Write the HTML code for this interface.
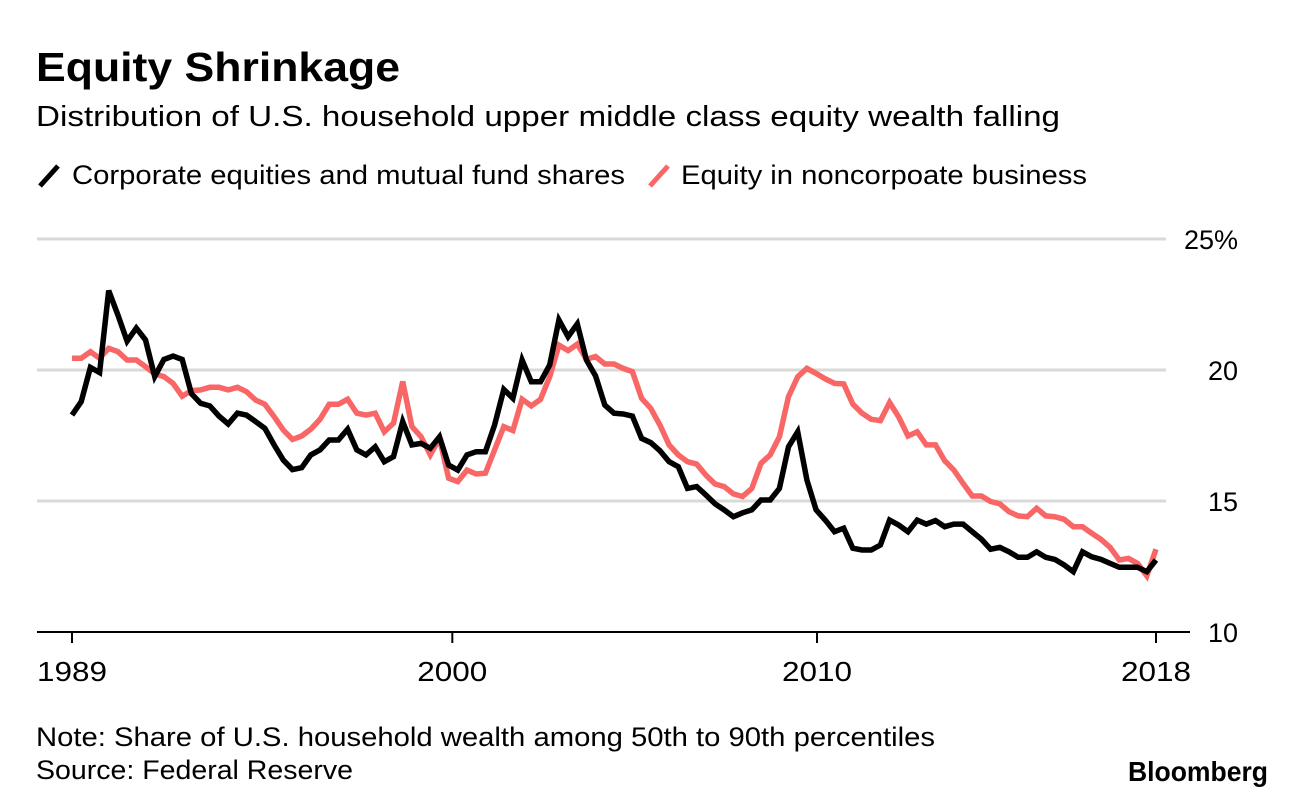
<!DOCTYPE html>
<html><head><meta charset="utf-8">
<style>
body{margin:0;background:#fff;width:1296px;height:802px;overflow:hidden;font-family:"Liberation Sans",Arial,sans-serif;}
svg text{font-family:"Liberation Sans",Arial,sans-serif;}
</style></head>
<body>
<svg id="chart" width="1296" height="802" viewBox="0 0 1296 802">
<text x="36" y="81" font-size="41" font-weight="bold" fill="#000" textLength="364" lengthAdjust="spacingAndGlyphs">Equity Shrinkage</text>
<text x="36" y="126" font-size="29" fill="#000" textLength="1024" lengthAdjust="spacingAndGlyphs">Distribution of U.S. household upper middle class equity wealth falling</text>
<g>
<line x1="40" y1="186" x2="58" y2="166" stroke="#000" stroke-width="5"/>
<text x="72" y="184" font-size="27" fill="#000" textLength="553" lengthAdjust="spacingAndGlyphs">Corporate equities and mutual fund shares</text>
<line x1="650" y1="186" x2="668" y2="166" stroke="#f86666" stroke-width="5"/>
<text x="681" y="184" font-size="27" fill="#000" textLength="406" lengthAdjust="spacingAndGlyphs">Equity in noncorpoate business</text>
</g>
<g id="grid"></g>
<g id="axes"></g>
<g id="series"></g>
<text x="36" y="746" font-size="27" fill="#000" textLength="899" lengthAdjust="spacingAndGlyphs">Note: Share of U.S. household wealth among 50th to 90th percentiles</text>
<text x="36" y="779" font-size="27" fill="#000" textLength="317" lengthAdjust="spacingAndGlyphs">Source: Federal Reserve</text>
<text x="1128" y="781" font-size="28" font-weight="bold" fill="#000" textLength="140" lengthAdjust="spacingAndGlyphs">Bloomberg</text>
</svg>
<script>
const corporate = [18.28,18.79,20.1,19.9,23.03,22.1,21.1,21.6,21.15,19.75,20.4,20.53,20.4,19.1,18.73,18.63,18.24,17.94,18.35,18.28,18.03,17.77,17.14,16.56,16.2,16.27,16.76,16.95,17.33,17.33,17.74,16.95,16.76,17.07,16.5,16.69,18.03,17.14,17.2,17.01,17.45,16.37,16.18,16.76,16.88,
16.88,17.9,19.26,18.92,20.38,19.55,19.55,20.19,21.91,21.27,21.76,20.38,19.77,18.66,18.35,18.32,18.24,17.39,17.23,16.92,16.5,16.31,15.48,15.55,15.23,14.89,14.66,14.4,14.55,14.66,15.04,15.04,15.48,17.07,17.64,15.8,14.66,14.27,13.83,13.96,
13.2,13.13,13.13,13.32,14.27,14.08,13.83,14.27,14.12,14.25,14.02,14.12,14.12,13.83,13.54,13.16,13.23,13.06,12.85,12.85,13.06,12.85,12.77,12.56,12.3,13.06,12.87,12.77,12.62,12.47,12.47,12.47,12.3,12.75];
const noncorporate = [20.45,20.45,20.7,20.45,20.83,20.7,20.38,20.38,20.13,19.85,19.75,19.49,19.0,19.21,19.24,19.34,19.34,19.24,19.34,19.17,18.85,18.69,18.22,17.71,17.35,17.48,17.74,18.12,18.69,18.69,18.88,18.35,18.28,18.35,17.64,17.97,19.56,17.84,17.45,16.76,17.39,15.87,15.74,16.18,16.03,
16.06,16.95,17.84,17.69,18.88,18.63,18.88,19.74,20.95,20.74,20.99,20.41,20.51,20.23,20.23,20.06,19.94,18.92,18.54,17.9,17.14,16.76,16.5,16.41,15.99,15.65,15.55,15.27,15.17,15.48,16.44,16.76,17.45,18.98,19.74,20.06,19.87,19.66,19.49,19.47,
18.7,18.35,18.12,18.07,18.76,18.2,17.48,17.64,17.14,17.14,16.54,16.18,15.67,15.19,15.19,14.98,14.89,14.59,14.43,14.4,14.72,14.43,14.4,14.3,14.02,14.02,13.77,13.54,13.23,12.75,12.81,12.62,12.14,13.16];
const yTicks = [10,15,20,25];
const yTickLabels = ["10","15","20","25%"];
const xTickIndex = [0,41.4,81.1,118];
const xTickLabels = ["1989","2000","2010","2018"];

const NS="http://www.w3.org/2000/svg";
const X0=72, X1=1156, Y10=632, PXU=26.2;
const nMax = Math.max(corporate.length, noncorporate.length)-1;
function xScale(i){return X0 + (X1-X0)*i/nMax;}
function yScale(v){return Y10 - (v-10)*PXU;}
function mk(tag, attrs, parent){const e=document.createElementNS(NS,tag);for(const k in attrs)e.setAttribute(k,attrs[k]);parent.appendChild(e);return e;}

const grid=document.getElementById('grid'), axes=document.getElementById('axes'), series=document.getElementById('series');
yTicks.forEach((t,i)=>{
  if(t>10){
    const g=mk('line',{x1:37,x2:1166,y1:yScale(t),y2:yScale(t),stroke:'#d9d9d9','stroke-width':3},grid);
    
    
  }
  const tx=mk('text',{x:1238,y:yScale(t)+10,'font-size':27,'text-anchor':'end',fill:'#000'},axes);
  tx.textContent=yTickLabels[i];
  
  
});
const ax=mk('line',{x1:37,x2:1190,y1:632,y2:632,stroke:'#000','stroke-width':2},axes);


xTickIndex.forEach((idx,i)=>{
  const x=xScale(idx);
  const tk=mk('line',{x1:x,x2:x,y1:632,y2:643,stroke:'#000','stroke-width':2},axes);
  
  
  const tl=mk('text',{x:x,y:681,'font-size':28,'text-anchor':'middle',fill:'#000',textLength:70,lengthAdjust:'spacingAndGlyphs'},axes);
  tl.textContent=xTickLabels[i];
  
  
});
function line(data,color,name){
  const n=data.length-1;
  const d=data.map((v,i)=>(i?'L':'M')+(X0+(X1-X0)*i/n).toFixed(1)+','+yScale(v).toFixed(1)).join(' ');
  const p=mk('path',{d:d,fill:'none',stroke:color,'stroke-width':5.5,'stroke-linejoin':'miter','stroke-linecap':'butt'},series);
  
  
}
line(noncorporate,'#f86666','line-noncorporate-equity');
line(corporate,'#000000','line-corporate-equities');
</script>
</body></html>
